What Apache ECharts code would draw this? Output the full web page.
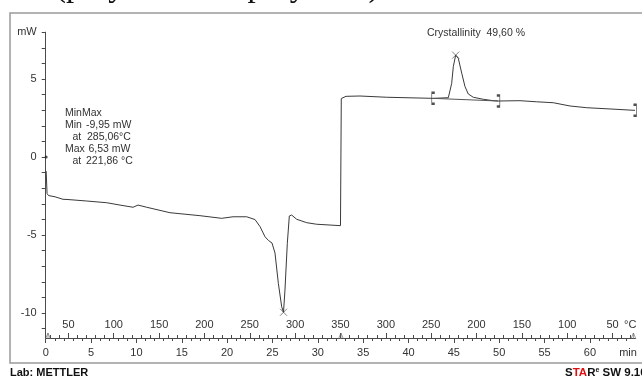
<!DOCTYPE html>
<html>
<head>
<meta charset="utf-8">
<script src="https://cdn.jsdelivr.net/npm/echarts@6/dist/echarts.min.js"></script>
<style>
  html, body { margin: 0; padding: 0; background: #fff; }
  #chart { width: 642px; height: 380px; }
</style>
</head>
<body>
<div id="chart"></div>
<script>
// DSC heat-flow curve: time in minutes, heat flow in mW
const timeMin = [
  0.05, 0.15, 0.31, 1.03, 1.91, 2.07, 2.35, 4.52, 6.73, 8.19, 9.63, 10.18, 11.14,
  13.70, 17.01, 19.40, 20.65, 22.16, 23.08, 23.63, 24.18, 24.56, 24.95, 25.28,
  25.65, 26.02, 26.22, 26.38, 26.64, 26.86, 27.12, 27.67, 28.78, 29.88, 31.35,
  32.50, 32.59, 32.78, 33.11, 34.65, 37.60, 42.73, 44.39, 44.76, 44.94, 45.20,
  45.49, 45.87, 46.23, 46.59, 47.14, 48.25, 49.35, 49.90, 52.29, 54.13, 55.96,
  57.81, 59.65, 62.22, 64.97
];
const heatFlow = [
  -0.90, -2.34, -2.47, -2.55, -2.71, -2.65, -2.72, -2.82, -2.93, -3.08, -3.22, -3.08, -3.22,
  -3.57, -3.76, -3.93, -3.83, -3.83, -4.01, -4.46, -5.11, -5.35, -5.51, -6.15,
  -8.10, -9.60, -9.95, -8.53, -5.53, -3.78, -3.72, -3.99, -4.21, -4.31, -4.36,
  -4.40, 3.75, 3.86, 3.89, 3.91, 3.83, 3.76, 3.80, 4.72, 5.79, 6.53,
  6.33, 5.37, 4.51, 4.04, 3.83, 3.70, 3.61, 3.59, 3.61, 3.54, 3.48,
  3.27, 3.16, 3.08, 2.99
];

// Evaluated extrema (Min / Max)
const extremaTime = [26.22, 45.20];
const extremaValue = [-9.95, 6.53];

// Crystallisation peak integration limits and baseline
const limitTime = [42.73, 49.90];
const limitValue = [3.76, 3.59];
const curveEndTime = [64.97];
const curveEndValue = [2.99];

// Axis ticks and labels
const mwTickLabels = [-10, -5, 0, 5];
const timeTickLabels = [0, 5, 10, 15, 20, 25, 30, 35, 40, 45, 50, 55, 60];
const tempTickTimes = [2.5, 7.5, 12.5, 17.5, 22.5, 27.5, 32.5, 37.5, 42.5, 47.5, 52.5, 57.5, 62.5];
const tempTickLabels = [50, 100, 150, 200, 250, 300, 350, 300, 250, 200, 150, 100, 50];

const T_MIN = 0, T_MAX = 65;
const MW_MIN = -11.6, MW_MAX = 8;
const MW_UNIT_POS = 8;        // where the "mW" unit sits on the axis
const MIN_UNIT_POS = 64.2;    // where "min" sits on the time ruler
const DEGC_UNIT_POS = 64.45;  // where "°C" sits on the temperature ruler

const FONT = '"Liberation Sans", Arial, sans-serif';
const INK = '#333';
const AXIS = '#4a4a4a';

// tick positions
const mwMinorTicks = [];
for (let v = -11; v <= 8; v++) mwMinorTicks.push(v);
const timeMinorTicks = [];
for (let t = 1; t <= 64; t++) if (t % 5 !== 0) timeMinorTicks.push(t);
const tempMinorTicks = [];
for (let t = 0.5; t <= 64.5; t += 1) if (tempTickTimes.indexOf(t) < 0) tempMinorTicks.push(t);

const chart = echarts.init(document.getElementById('chart'), null, { renderer: 'canvas' });

const baseX = {
  type: 'value', min: T_MIN, max: T_MAX, position: 'bottom',
  splitLine: { show: false },
  axisLine: { show: false, onZero: false },
  axisLabel: { show: false },
  axisTick: { show: false }
};

const crossSymbol = 'path://M0,0L10,10M10,0L0,10';
const leftBracket = 'path://M3,0L0,0L0,12L3,12';
const rightBracket = 'path://M0,0L3,0L3,12L0,12';

function note(x, y, text) {
  return { type: 'text', silent: true, x: x, y: y,
    style: { text: text, font: '10.5px ' + FONT, fill: INK, verticalAlign: 'middle', align: 'left' } };
}

chart.setOption({
  animation: false,
  backgroundColor: '#fff',
  textStyle: { fontFamily: FONT },
  grid: {
    left: 45.7, right: 6.75, top: 32.2, bottom: 42,
    containLabel: false, outerBoundsMode: 'none'
  },
  xAxis: [
    // time ruler: line, major ticks and labels below
    Object.assign({}, baseX, {
      axisLine: { show: true, onZero: false, lineStyle: { color: AXIS, width: 1 } },
      axisTick: { show: true, inside: false, length: 5, customValues: timeTickLabels,
        lineStyle: { color: AXIS, width: 1 } },
      axisLabel: {
        show: true, margin: 9, fontSize: 11, color: INK, fontFamily: FONT,
        customValues: timeTickLabels.concat([MIN_UNIT_POS]),
        formatter: v => (v === MIN_UNIT_POS ? 'min' : String(v))
      }
    }),
    // time minor ticks (1 min)
    Object.assign({}, baseX, {
      axisTick: { show: true, inside: false, length: 3, customValues: timeMinorTicks,
        lineStyle: { color: AXIS, width: 1 } }
    }),
    // temperature ruler: major ticks and labels above the line
    Object.assign({}, baseX, {
      axisTick: { show: true, inside: true, length: 5, customValues: tempTickTimes,
        lineStyle: { color: AXIS, width: 1 } },
      axisLabel: {
        show: true, inside: true, margin: 8, fontSize: 11, color: INK, fontFamily: FONT,
        customValues: tempTickTimes.concat([DEGC_UNIT_POS]),
        formatter: v => {
          if (v === DEGC_UNIT_POS) return '°C';
          const i = tempTickTimes.indexOf(v);
          return i >= 0 ? String(tempTickLabels[i]) : '';
        }
      }
    }),
    // temperature minor ticks (10 °C)
    Object.assign({}, baseX, {
      axisTick: { show: true, inside: true, length: 3, customValues: tempMinorTicks,
        lineStyle: { color: AXIS, width: 1 } }
    })
  ],
  yAxis: {
    type: 'value', min: MW_MIN, max: MW_MAX,
    splitLine: { show: false },
    axisLine: { show: true, onZero: false, lineStyle: { color: AXIS, width: 1 } },
    axisTick: { show: true, inside: false, length: 4, customValues: mwMinorTicks,
      lineStyle: { color: AXIS, width: 1 } },
    axisLabel: {
      show: true, margin: 9, fontSize: 11, color: INK, fontFamily: FONT,
      customValues: mwTickLabels.concat([MW_UNIT_POS]),
      formatter: v => (v === MW_UNIT_POS ? 'mW' : String(v))
    }
  },
  series: [
    {
      type: 'line', name: 'Heat flow', xAxisIndex: 0,
      data: timeMin.map((t, i) => [t, heatFlow[i]]),
      showSymbol: false, symbol: 'none', smooth: false,
      lineStyle: { color: '#3a3a3a', width: 1 },
      clip: false
    },
    {
      type: 'line', name: 'Baseline', xAxisIndex: 0,
      data: limitTime.map((t, i) => [t, limitValue[i]]),
      showSymbol: false, symbol: 'none',
      lineStyle: { color: '#555', width: 1 }
    },
    {
      type: 'scatter', name: 'Extrema', xAxisIndex: 0,
      data: extremaTime.map((t, i) => [t, extremaValue[i]]),
      symbol: crossSymbol, symbolSize: 7,
      itemStyle: { color: 'transparent', borderColor: '#666', borderWidth: 1 },
      clip: false
    },
    {
      type: 'scatter', name: 'Start limit', xAxisIndex: 0,
      data: [[limitTime[0], limitValue[0]]],
      symbol: leftBracket, symbolSize: [3, 11], symbolKeepAspect: false,
      itemStyle: { color: 'transparent', borderColor: '#222', borderWidth: 1.3 }
    },
    {
      type: 'scatter', name: 'End limits', xAxisIndex: 0,
      data: [[limitTime[1], limitValue[1]], [curveEndTime[0], curveEndValue[0]]],
      symbol: rightBracket, symbolSize: [3, 11], symbolKeepAspect: false,
      itemStyle: { color: 'transparent', borderColor: '#222', borderWidth: 1.3 },
      clip: false
    },
    {
      type: 'scatter', name: 'Origin', xAxisIndex: 0,
      data: [[0.05, 0]],
      symbol: 'circle', symbolSize: 3,
      itemStyle: { color: '#222' },
      clip: false
    },
    {
      type: 'scatter', name: 'Segment marks', xAxisIndex: 0,
      data: [[0.25, MW_MIN], [32.55, MW_MIN], [64.8, MW_MIN]],
      symbol: 'path://M0,10L5,0L10,10M5,0L5,10', symbolSize: [5, 6], symbolOffset: [0, -2],
      itemStyle: { color: 'transparent', borderColor: '#666', borderWidth: 0.8 },
      clip: false
    }
  ],
  graphic: [
    // outer frame
    {
      type: 'rect', silent: true,
      shape: { x: 10, y: 13, width: 700, height: 350 },
      style: { fill: 'none', stroke: '#9a9a9a', lineWidth: 1.5 }
    },
    // caption above the frame
    {
      type: 'text', silent: true, x: 55, y: -13,
      style: { text: '(polyamide in polyester)', font: '33px "Liberation Serif", serif',
        fill: '#111', verticalAlign: 'middle', align: 'left' }
    },
    note(427, 33, 'Crystallinity  49,60 %'),
    // MinMax evaluation
    note(65, 113, 'MinMax'),
    note(65, 125, 'Min'),
    note(86, 125, '-9,95 mW'),
    note(72.5, 137, 'at'),
    note(87, 137, '285,06°C'),
    note(65, 149, 'Max'),
    note(88.5, 149, '6,53 mW'),
    note(72.5, 161, 'at'),
    note(86, 161, '221,86 °C'),
    // footer
    { type: 'text', silent: true, x: 10, y: 373,
      style: { text: 'Lab: METTLER', font: 'bold 11px ' + FONT, fill: '#111', verticalAlign: 'middle' } },
    { type: 'text', silent: true, x: 565, y: 373,
      style: {
        text: '{k|S}{r|TA}{k|R}{s|e}{k| SW 9.10}',
        verticalAlign: 'middle',
        rich: {
          k: { font: 'bold 11.5px ' + FONT, fill: '#111' },
          r: { font: 'bold 11.5px ' + FONT, fill: '#d11' },
          s: { font: 'bold 7px ' + FONT, fill: '#111', padding: [0, 0, 6, 0] }
        }
      }
    }
  ]
});
</script>
</body>
</html>
